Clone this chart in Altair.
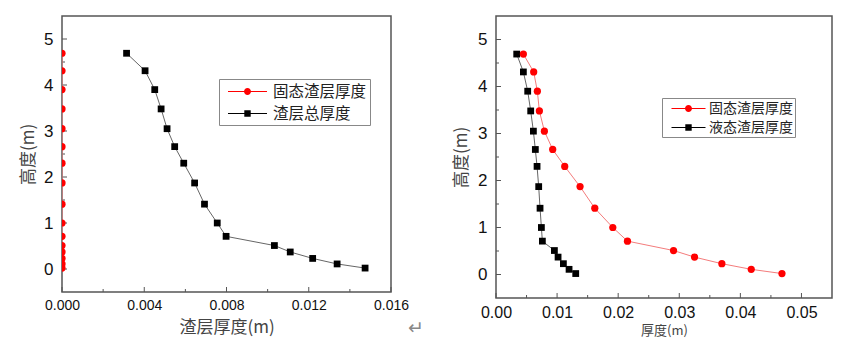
import altair as alt
import pandas as pd

heights = [4.69, 4.31, 3.90, 3.48, 3.05, 2.66, 2.30, 1.87, 1.41, 1.00, 0.71, 0.51, 0.37, 0.23, 0.11, 0.02]
left_solid = [0.0, 0.0, 0.0, 0.0, 0.0, 0.0, 0.0, 0.0, 0.0, 0.0, 0.0, 0.0, 0.0, 0.0, 0.0, 0.0]
left_total = [0.00314, 0.00404, 0.00451, 0.00482, 0.00511, 0.00548, 0.00592, 0.00645,
              0.00693, 0.00755, 0.00798, 0.01033, 0.01110, 0.01219, 0.01338, 0.01474]
right_solid = [0.00448, 0.00617, 0.00677, 0.00710, 0.00792, 0.00928, 0.01125, 0.01376,
               0.01617, 0.01912, 0.02152, 0.02906, 0.03250, 0.03697, 0.04178, 0.04681]
right_liquid = [0.00339, 0.00448, 0.00519, 0.00568, 0.00612, 0.00644, 0.00672, 0.00699,
                0.00721, 0.00743, 0.00759, 0.00956, 0.01016, 0.01103, 0.01196, 0.01305]

left_names = ["固态渣层厚度", "渣层总厚度"]
right_names = ["固态渣层厚度", "液态渣层厚度"]

y_major = [0, 1, 2, 3, 4, 5]
y_minor = [0.5, 1.5, 2.5, 3.5, 4.5]
lx_major = [0.0, 0.004, 0.008, 0.012, 0.016]
lx_minor = [0.002, 0.006, 0.010, 0.014]
rx_major = [0.0, 0.01, 0.02, 0.03, 0.04, 0.05]
rx_minor = [0.005, 0.015, 0.025, 0.035, 0.045]

RED = "#ff0000"
BLACK = "#000000"
FRAME = "#555555"
CJK = "Noto Sans CJK SC"
NUM = "Liberation Sans"


def leg_paths(sym_px, stub_px, marker_r_px):
    u = sym_px / 2.0
    L = stub_px / 2.0 / u
    w = 0.5 / u
    r = marker_r_px / u
    s = (marker_r_px - 0.3) / u
    line = f"M{-L:.3f},{-w:.3f}H{L:.3f}V{w:.3f}H{-L:.3f}Z"
    circ = f"M{r:.3f},0A{r:.3f},{r:.3f} 0 1,1 {-r:.3f},0A{r:.3f},{r:.3f} 0 1,1 {r:.3f},0Z"
    sq = f"M{-s:.3f},{-s:.3f}H{s:.3f}V{s:.3f}H{-s:.3f}Z"
    return [line + " " + circ, line + " " + sq]


def series_df(xs, name):
    return pd.DataFrame({"t": xs, "h": heights, "i": list(range(len(xs))), "s": name})


def panel(s1, s2, names, xdom, xmaj, xmin, xfmt, W, H, xtitle, xt_size, xlab_size, xlab_pad,
          ytitle_x, xtitle_y, legx, legy, leg_font, sym_px, stub_px, sym_off, lab_off, leg_pad,
          row_pad, extra=None):
    xs = alt.X("t:Q", scale=alt.Scale(domain=xdom, nice=False, zero=False),
               axis=alt.Axis(values=xmaj, format=xfmt, ticks=False, domain=False, grid=False,
                             labelFont=NUM, labelFontSize=xlab_size, labelColor="#111",
                             labelPadding=xlab_pad, labelFlush=False,
                             title=xtitle, titleFont=CJK, titleFontSize=xt_size,
                             titleFontWeight="normal", titleColor="#444",
                             titleX=W / 2, titleY=xtitle_y, titleAlign="center",
                             titleBaseline="middle"))
    ys = alt.Y("h:Q", scale=alt.Scale(domain=[-0.5, 5.5], nice=False, zero=False),
               axis=alt.Axis(values=y_major, format="d", ticks=False, domain=False, grid=False,
                             labelFont=NUM, labelFontSize=17, labelColor="#111",
                             labelPadding=9,
                             title="高度(m)", titleFont=CJK, titleFontSize=17,
                             titleFontWeight="normal", titleColor="#444",
                             titleX=ytitle_x, titleY=H / 2, titleAngle=-90,
                             titleAlign="center", titleBaseline="middle"))
    d1 = series_df(s1, names[0])
    d2 = series_df(s2, names[1])
    both = pd.concat([d1, d2])

    l1 = alt.Chart(d1).mark_line(color="#f47c7c", strokeWidth=1, clip=True).encode(
        x=xs, y=ys, order="i:Q")
    p1 = alt.Chart(d1).mark_point(shape="circle", filled=True, color=RED, size=52,
                                  opacity=1, clip=True).encode(x=xs, y=ys)
    l2 = alt.Chart(d2).mark_line(color="#666666", strokeWidth=1, clip=True).encode(
        x=xs, y=ys, order="i:Q")
    p2 = alt.Chart(d2).mark_point(shape="square", filled=True, color=BLACK, size=46,
                                  opacity=1, clip=True).encode(x=xs, y=ys)

    legend = alt.Legend(orient="none", legendX=legx, legendY=legy,
                        title=None, labelFont=CJK, labelFontSize=leg_font,
                        labelColor="#222", symbolSize=sym_px * sym_px,
                        strokeColor="#888888", fillColor="white",
                        padding=leg_pad, rowPadding=row_pad, symbolOffset=sym_off,
                        labelOffset=lab_off, symbolOpacity=1, symbolStrokeWidth=0)
    leg = alt.Chart(both).transform_filter("false").mark_point(filled=True, opacity=1).encode(
        x=xs, y=ys,
        color=alt.Color("s:N", scale=alt.Scale(domain=names, range=[RED, BLACK]), legend=legend),
        shape=alt.Shape("s:N", scale=alt.Scale(domain=names,
                                               range=leg_paths(sym_px, stub_px, 3.5)),
                        legend=legend),
    )

    ymaj_df = pd.DataFrame({"h": y_major})
    ymin_df = pd.DataFrame({"h": y_minor})
    xmaj_df = pd.DataFrame({"t": xmaj})
    xmin_df = pd.DataFrame({"t": xmin})
    tk = dict(color=FRAME, strokeWidth=1)
    t1 = alt.Chart(ymaj_df).mark_rule(**tk).encode(y=ys, x=alt.value(0), x2=alt.value(5))
    t2 = alt.Chart(ymin_df).mark_rule(**tk).encode(y=ys, x=alt.value(0), x2=alt.value(3))
    t3 = alt.Chart(xmaj_df).mark_rule(**tk).encode(x=xs, y=alt.value(H), y2=alt.value(H - 5))
    t4 = alt.Chart(xmin_df).mark_rule(**tk).encode(x=xs, y=alt.value(H), y2=alt.value(H - 3))

    layers = [t1, t2, t3, t4, l1, l2, p2, p1, leg]
    if extra is not None:
        layers.append(extra)
    return alt.layer(*layers).properties(width=W, height=H)


mark_df = pd.DataFrame({"c": ["↵"]})
ret_mark = alt.Chart(mark_df).mark_text(font="DejaVu Sans", fontSize=19, color="#888888").encode(
    text="c:N", x=alt.value(354), y=alt.value(312))

left = panel(left_solid, left_total, left_names, [0, 0.016], lx_major, lx_minor, ".3f",
             329, 276, "渣层厚度(m)", 17, 14, 6, -34, 35,
             157, 63, 15.5, 19, 39, 16, 16, 3, 4, extra=ret_mark)
right = panel(right_solid, right_liquid, right_names, [0, 0.055], rx_major, rx_minor, ".2f",
              336, 282, "厚度(m)", 13, 16, 6, -35, 32,
              166, 82, 14, 17, 34, 16, 12, 2, 3)

chart = alt.hconcat(left, right, spacing=105, bounds="flush").resolve_scale(
    color="independent", shape="independent", x="independent", y="independent"
).properties(
    padding={"left": 18, "top": 15, "right": 5, "bottom": 5},
    background="white",
).configure_view(stroke=FRAME, strokeWidth=1.5)

chart.save("out.html", embed_options={"renderer": "svg", "actions": False})
